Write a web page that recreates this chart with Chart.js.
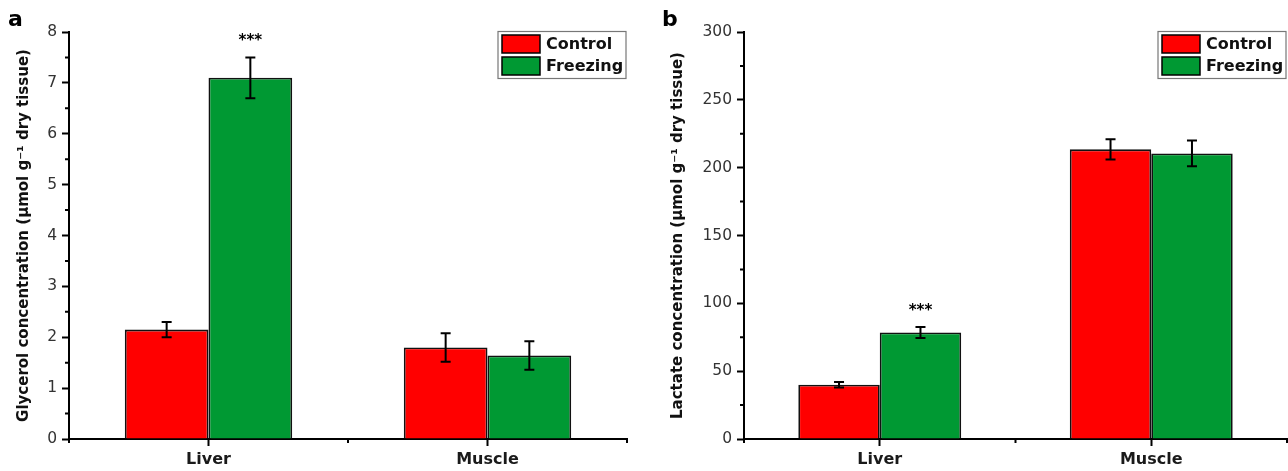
<!DOCTYPE html>
<html>
<head>
<meta charset="utf-8">
<script src="https://cdn.jsdelivr.net/npm/chart.js@4"></script>
<style>
  body { margin: 0; background: #fff; }
  canvas { position: absolute; top: 0; }
  #left { left: 0; }
  #right { left: 645px; }
</style>
</head>
<body>
<canvas id="left" width="640" height="471"></canvas>
<canvas id="right" width="643" height="471"></canvas>
<script>
// data
const tissues = ['Liver', 'Muscle'];
const seriesNames = ['Control', 'Freezing'];

const glycerolControl = [2.15, 1.8];
const glycerolControlErr = [0.15, 0.28];
const glycerolFreezing = [7.1, 1.64];
const glycerolFreezingErr = [0.4, 0.28];
const glycerolStars = [['', ''], ['***', '']];

const lactateControl = [40, 213.5];
const lactateControlErr = [2, 7.5];
const lactateFreezing = [78.5, 210.5];
const lactateFreezingErr = [4, 9.5];
const lactateStars = [['', ''], ['***', '']];

const red = '#ff0000';
const green = '#009933';
const font = 'DejaVu Sans';

// error bars, stars, minor ticks, boxed legend, panel letter
let decor = {
    id: 'decor',
    afterDatasetsDraw(chart, args, opts) {
        let ctx = chart.ctx;
        let y = chart.scales.y;
        ctx.save();
        chart.data.datasets.forEach((ds, i) => {
            let meta = chart.getDatasetMeta(i);
            meta.data.forEach((bar, j) => {
                let v = ds.data[j];
                let e = ds.errors[j];
                let top = y.getPixelForValue(v + e);
                let bot = y.getPixelForValue(v - e);
                ctx.strokeStyle = '#000';
                ctx.lineWidth = 2;
                ctx.beginPath();
                ctx.moveTo(bar.x, top); ctx.lineTo(bar.x, bot);
                ctx.moveTo(bar.x - 5, top); ctx.lineTo(bar.x + 5, top);
                ctx.moveTo(bar.x - 5, bot); ctx.lineTo(bar.x + 5, bot);
                ctx.stroke();
                if (ds.stars[j]) {
                    ctx.fillStyle = '#000';
                    ctx.font = 'bold 15px ' + font;
                    ctx.textAlign = 'center';
                    ctx.textBaseline = 'alphabetic';
                    ctx.fillText(ds.stars[j], bar.x, top - 12);
                }
            });
        });
        ctx.restore();
    },
    afterDraw(chart, args, opts) {
        let ctx = chart.ctx;
        let area = chart.chartArea;
        let y = chart.scales.y;
        let x = chart.scales.x;
        ctx.save();
        ctx.strokeStyle = '#000';
        ctx.lineWidth = 2;
        ctx.beginPath();
        // minor y ticks
        for (let i = 0; i < y.ticks.length - 1; i++) {
            let mid = (y.ticks[i].value + y.ticks[i + 1].value) / 2;
            let py = y.getPixelForValue(mid);
            ctx.moveTo(area.left - 4, py); ctx.lineTo(area.left, py);
        }
        // minor x ticks at category edges
        for (let i = 0; i <= tissues.length; i++) {
            let px = x.getPixelForValue(i - 0.5);
            ctx.moveTo(px, area.bottom); ctx.lineTo(px, area.bottom + 4);
        }
        ctx.stroke();

        // legend box
        let bx = area.right - 129;
        let by = area.top - 0.5;
        ctx.fillStyle = '#fff';
        ctx.fillRect(bx, by, 128, 47);
        ctx.strokeStyle = '#777';
        ctx.lineWidth = 1.2;
        ctx.strokeRect(bx, by, 128, 47);
        chart.data.datasets.forEach((ds, i) => {
            let sy = by + 3.5 + i * 22;
            ctx.fillStyle = ds.backgroundColor;
            ctx.fillRect(bx + 4, sy, 38, 18);
            ctx.strokeStyle = '#000';
            ctx.lineWidth = 1.5;
            ctx.strokeRect(bx + 4, sy, 38, 18);
            ctx.fillStyle = '#111';
            ctx.font = 'bold 16px ' + font;
            ctx.textAlign = 'left';
            ctx.textBaseline = 'middle';
            ctx.fillText(ds.label, bx + 48, sy + 10);
        });

        // panel letter
        ctx.fillStyle = '#000';
        ctx.font = 'bold 22px ' + font;
        ctx.textAlign = 'left';
        ctx.textBaseline = 'alphabetic';
        ctx.fillText(opts.letter, opts.letterX, 26);
        ctx.restore();
    }
};

function makeChart(canvasId, cfg) {
    return new Chart(document.getElementById(canvasId), {
        type: 'bar',
        data: {
            labels: tissues,
            datasets: [{
                label: seriesNames[0],
                data: cfg.control,
                errors: cfg.controlErr,
                stars: cfg.stars[0],
                backgroundColor: red,
                borderColor: '#111',
                borderWidth: 1.8
            }, {
                label: seriesNames[1],
                data: cfg.freezing,
                errors: cfg.freezingErr,
                stars: cfg.stars[1],
                backgroundColor: green,
                borderColor: '#111',
                borderWidth: 1.8
            }]
        },
        options: {
            responsive: false,
            animation: false,
            devicePixelRatio: 1,
            categoryPercentage: 0.6,
            barPercentage: 1,
            layout: { padding: { top: 32, right: cfg.padRight, left: 0, bottom: 0 } },
            plugins: {
                legend: { display: false },
                tooltip: { enabled: false },
                decor: { letter: cfg.letter, letterX: cfg.letterX }
            },
            scales: {
                x: {
                    afterFit: (scale) => { scale.height = 32; },
                    grid: { offset: false, drawOnChartArea: false, tickLength: 7, tickWidth: 2, tickColor: '#000' },
                    border: { color: '#000', width: 2 },
                    ticks: { color: '#1a1a1a', padding: 4, font: { family: font, size: 16, weight: 'bold' } }
                },
                y: {
                    min: 0,
                    max: cfg.yMax,
                    afterFit: (scale) => { scale.width = cfg.yWidth; },
                    grid: { drawOnChartArea: false, tickLength: 7, tickWidth: 2, tickColor: '#000' },
                    border: { color: '#000', width: 2 },
                    ticks: { stepSize: cfg.step, color: '#333', padding: 5, font: { family: font, size: 15.5 } },
                    title: {
                        display: true,
                        text: cfg.title,
                        color: '#111',
                        padding: { top: cfg.titlePad, bottom: 0 },
                        font: { family: font, size: 15, weight: 'bold' }
                    }
                }
            }
        },
        plugins: [decor]
    });
}

makeChart('left', {
    control: glycerolControl, controlErr: glycerolControlErr,
    freezing: glycerolFreezing, freezingErr: glycerolFreezingErr,
    stars: glycerolStars,
    yMax: 8, step: 1, yWidth: 69, padRight: 13, titlePad: 15,
    title: 'Glycerol concentration (μmol g⁻¹ dry tissue)',
    letter: 'a', letterX: 8
});

makeChart('right', {
    control: lactateControl, controlErr: lactateControlErr,
    freezing: lactateFreezing, freezingErr: lactateFreezingErr,
    stars: lactateStars,
    yMax: 300, step: 50, yWidth: 99, padRight: 1, titlePad: 24,
    title: 'Lactate concentration (μmol g⁻¹ dry tissue)',
    letter: 'b', letterX: 17
});
</script>
</body>
</html>
